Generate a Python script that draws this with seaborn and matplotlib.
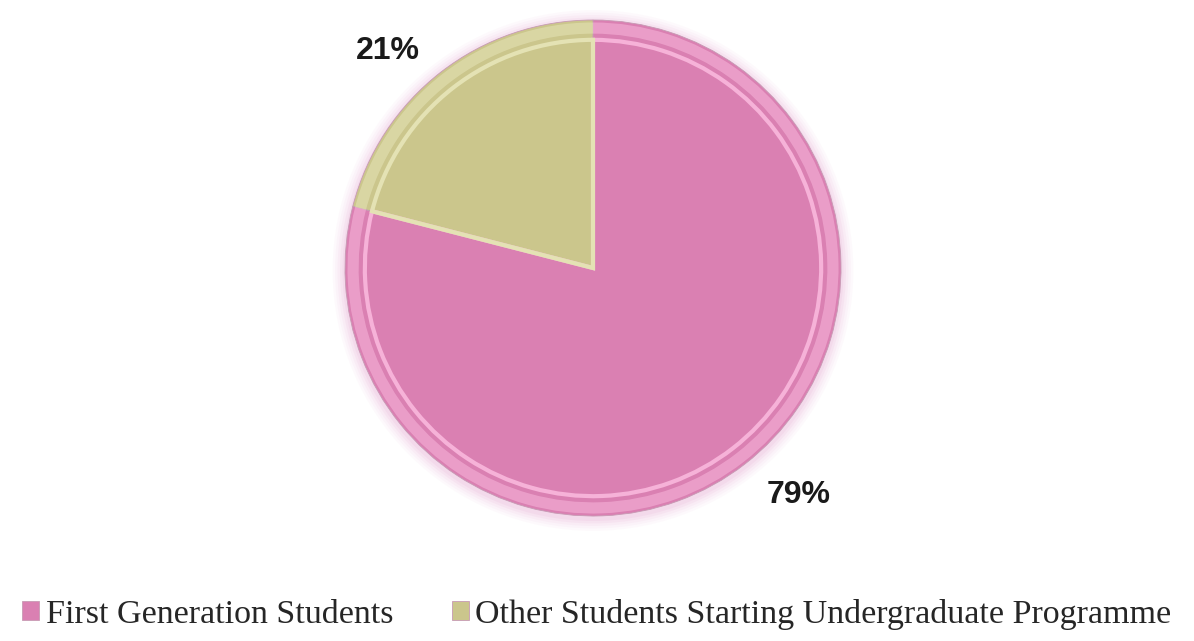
import matplotlib
matplotlib.use("Agg")
import numpy as np
import matplotlib.pyplot as plt
import seaborn as sns
from matplotlib.patches import Circle, Wedge

categories = ["First Generation Students", "Other Students Starting Undergraduate Programme"]
shares = [79, 21]
colors = ["#DA80B2", "#CBC68C"]
edge_light = ["#F6B2D8", "#E4E2B4"]

sns.set_theme(style="white")

fig = plt.figure(figsize=(11.94, 6.41), dpi=100)
r_px = 248
cx, cy = 593, 268
ax = fig.add_axes([(cx - r_px) / 1194, (641 - cy - r_px) / 641, 2 * r_px / 1194, 2 * r_px / 641])

# soft pink glow around the pie
for i, a in enumerate([0.05, 0.06, 0.08, 0.10, 0.12]):
    ax.add_patch(Circle((0, -0.01), 1.05 - i * 0.01, color="#E39ACB", alpha=a, lw=0,
                        zorder=0, clip_on=False))

wedges, _, autotexts = ax.pie(
    shares, colors=colors, startangle=90, counterclock=False,
    autopct="%1.0f%%", pctdistance=1.22,
    wedgeprops=dict(edgecolor="#C79AB4", linewidth=0.6),
    textprops=dict(fontsize=23, fontweight="bold", color="#1a1a1a", family="Liberation Sans"),
)

# nudge percentage labels slightly around the circle, as in the original
for w, t in zip(wedges, autotexts):
    ang = np.deg2rad((w.theta1 + w.theta2) / 2 + 5)
    t.set_position((1.22 * np.cos(ang), 1.22 * np.sin(ang) - 0.02))

# bevel-like inner rims
for w, lc in zip(wedges, edge_light):
    ax.add_patch(Wedge((0, 0), 0.92, w.theta1, w.theta2, facecolor="none",
                       edgecolor=lc, linewidth=3, zorder=3))
    ax.add_patch(Wedge((0, 0), 0.99, w.theta1, w.theta2, width=0.045, facecolor=lc,
                       edgecolor="none", alpha=0.6, zorder=3))

ax.set_xlim(-1, 1)
ax.set_ylim(-1, 1)
ax.set_aspect("equal")
ax.axis("off")

fig.legend(
    wedges, categories, loc="lower center", bbox_to_anchor=(0.5, -0.03), ncol=2,
    frameon=False, handlelength=0.5, handleheight=0.5, handletextpad=0.2,
    columnspacing=1.7, prop=dict(family="Liberation Serif", size=24.5),
)

fig.savefig("out.png", dpi=100)
